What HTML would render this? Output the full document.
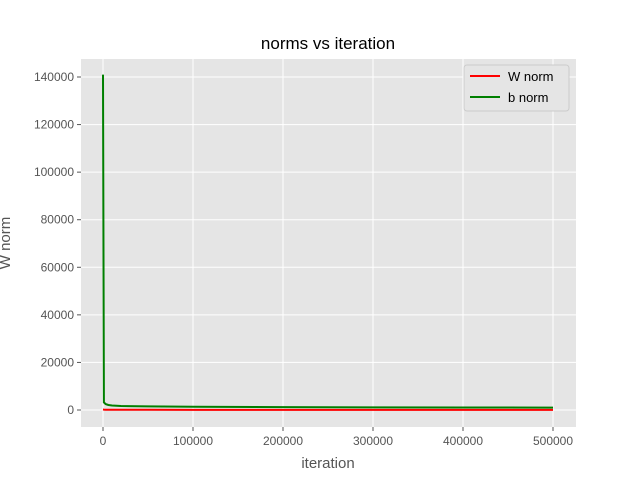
<!DOCTYPE html>
<html><head><meta charset="utf-8"><style>body{margin:0;background:#fff}svg{display:block;font-family:"Liberation Sans","DejaVu Sans",sans-serif}</style></head>
<body>
<svg id="c" width="640" height="480"></svg>
<script>
const xTicks=[0,100000,200000,300000,400000,500000];
const yTicks=[0,20000,40000,60000,80000,100000,120000,140000];
const iters=[0,1000,3000,6000,10000,20000,50000,100000,200000,300000,400000,500000];
const wNorm=[200,150,120,100,90,80,70,60,50,45,40,35];
const bNorm=[141000,3200,2500,2100,1900,1700,1500,1350,1200,1100,1050,1000];
const L=81,R=576,T=59,B=427;
const xs=v=>103+v*(553-103)/500000;
const ys=v=>410-v*(410-77)/140000;
const ns="http://www.w3.org/2000/svg",s=document.getElementById('c');
function el(t,a,txt){const e=document.createElementNS(ns,t);for(const k in a)e.setAttribute(k,a[k]);if(txt!==undefined)e.textContent=txt;s.appendChild(e);return e;}
let e=el('rect',{x:L,y:T,width:R-L,height:B-T,fill:'#e5e5e5'});


xTicks.forEach(v=>{const x=xs(v);
e=el('line',{x1:x,x2:x,y1:T,y2:B,stroke:'#fff','stroke-width':1});

e=el('line',{x1:x,x2:x,y1:B,y2:B+4,stroke:'#555'});

e=el('text',{x:x,y:B+18,'text-anchor':'middle','font-size':12,fill:'#555'},String(v));
});
yTicks.forEach(v=>{const y=ys(v);
e=el('line',{x1:L,x2:R,y1:y,y2:y,stroke:'#fff','stroke-width':1});

e=el('line',{x1:L-4,x2:L,y1:y,y2:y,stroke:'#555'});

e=el('text',{x:L-7,y:y+4,'text-anchor':'end','font-size':12,fill:'#555'},String(v));
});
function line(vals,col,name){const d=iters.map((v,i)=>(i?'L':'M')+xs(v).toFixed(1)+' '+ys(vals[i]).toFixed(1)).join(' ');
const p=el('path',{d:d,fill:'none',stroke:col,'stroke-width':2});
}
line(wNorm,'#ff0000','w-norm-line');
line(bNorm,'#008000','b-norm-line');
e=el('text',{x:328,y:49,'text-anchor':'middle','font-size':17,fill:'#000'},'norms vs iteration');

e=el('text',{x:328,y:468,'text-anchor':'middle','font-size':15,fill:'#555'},'iteration');

e=el('text',{x:10,y:243,'text-anchor':'middle','font-size':15,fill:'#555',transform:'rotate(-90 10 243)'},'W norm');

e=el('rect',{x:464,y:65,width:105,height:46,fill:'#e5e5e5',stroke:'#ccc',rx:3});

[['W norm','#ff0000',76],['b norm','#008000',97]].forEach(([t,c,y])=>{
e=el('line',{x1:470,x2:500,y1:y,y2:y,stroke:c,'stroke-width':2});

e=el('text',{x:508,y:y+5,'font-size':13,fill:'#000'},t);
});
</script>
</body></html>
